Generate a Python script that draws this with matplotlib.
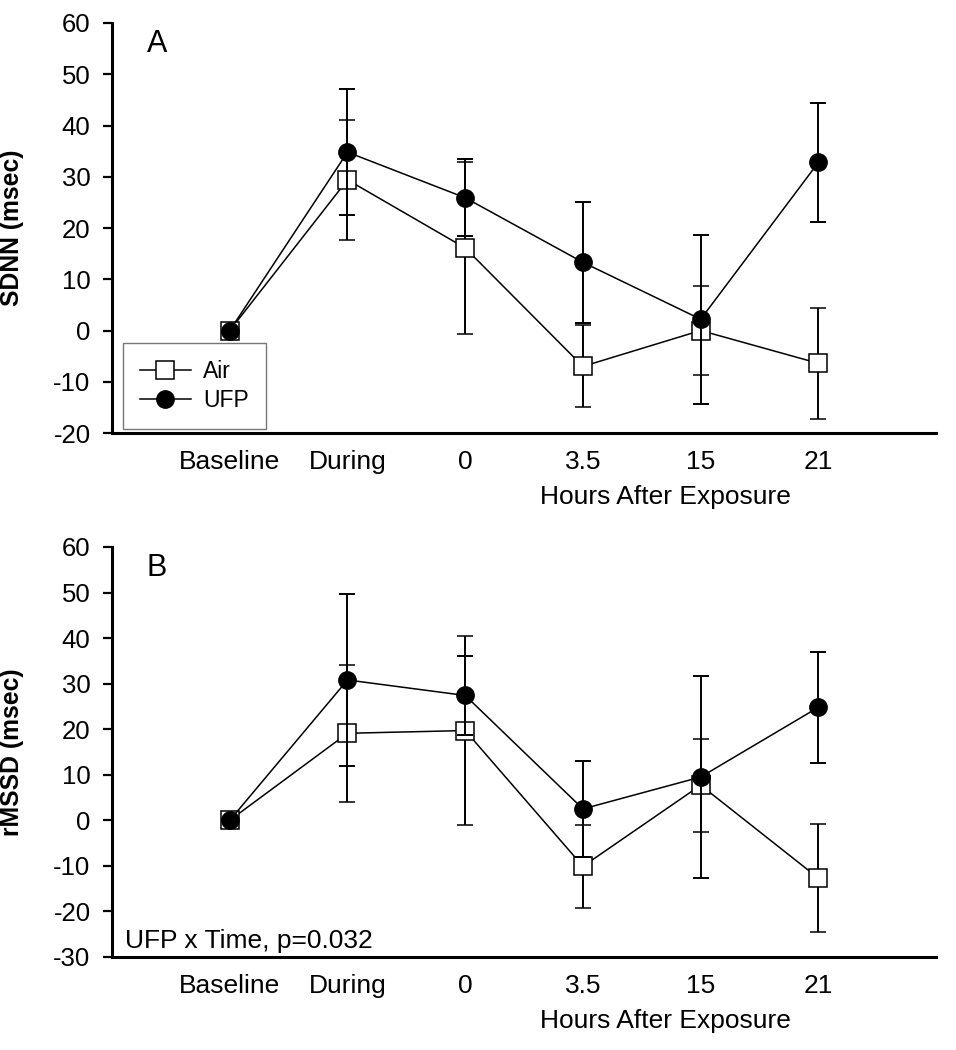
import numpy as np
import matplotlib
matplotlib.use('Agg')
import matplotlib.pyplot as plt
from matplotlib.lines import Line2D

plt.rcParams['font.family'] = ['Liberation Sans', 'DejaVu Sans']
plt.rcParams['axes.unicode_minus'] = False

x_labels = ['Baseline', 'During', '0', '3.5', '15', '21']

# panel A: SDNN
air_a = [0, 29.4, 16.1, -7.0, 0.0, -6.4]
air_a_err = [0, 11.7, 16.7, 8.0, 8.7, 10.8]
ufp_a = [0, 34.8, 25.9, 13.3, 2.2, 32.8]
ufp_a_err = [0, 12.3, 7.5, 11.8, 16.5, 11.6]

# panel B: rMSSD
air_b = [0, 19.1, 19.7, -10.1, 7.7, -12.7]
air_b_err = [0, 15.0, 20.8, 9.1, 10.2, 11.8]
ufp_b = [0, 30.8, 27.4, 2.5, 9.5, 24.8]
ufp_b_err = [0, 18.9, 8.7, 10.5, 22.2, 12.2]

fs = 19
x = np.arange(len(x_labels))

fig = plt.figure(figsize=(9.56, 10.5), dpi=100)
ax_a = fig.add_axes([0.1172, 0.5876, 0.862, 0.3905])
ax_b = fig.add_axes([0.1172, 0.0886, 0.862, 0.3905])


def draw_panel(ax, air, air_err, ufp, ufp_err, ylim, ylabel, letter):
    ax.errorbar(x, air, yerr=air_err, color='black', lw=1.1, elinewidth=1.4,
                capsize=5.5, capthick=1.4, marker='s', ms=13, mfc='white',
                mec='black', mew=1.1, zorder=2)
    ax.errorbar(x, ufp, yerr=ufp_err, color='black', lw=1.1, elinewidth=1.4,
                capsize=5.5, capthick=1.4, marker='o', ms=12.5, mfc='black',
                mec='black', zorder=3)
    ax.set_xlim(-1, 6)
    ax.set_ylim(*ylim)
    ax.set_yticks(np.arange(ylim[0], ylim[1] + 1, 10))
    ax.set_xticks(x)
    ax.set_xticklabels(x_labels)
    for s in ['top', 'right']:
        ax.spines[s].set_visible(False)
    for s in ['left', 'bottom']:
        ax.spines[s].set_linewidth(2.2)
    ax.tick_params(axis='x', length=0, pad=12, labelsize=fs)
    ax.tick_params(axis='y', length=6.5, width=1.6, pad=9, labelsize=18.5)
    ax.set_ylabel(ylabel, fontsize=17.8, fontweight='bold')
    ax.yaxis.set_label_coords(-0.107, 0.5)
    ax.text(3.7, -0.156, 'Hours After Exposure', fontsize=fs, ha='center',
            va='center', transform=ax.get_xaxis_transform())
    ax.text(0.042, 0.985, letter, fontsize=22, ha='left', va='top',
            transform=ax.transAxes)


draw_panel(ax_a, air_a, air_a_err, ufp_a, ufp_a_err, (-20, 60),
           'SDNN (msec)', 'A')
draw_panel(ax_b, air_b, air_b_err, ufp_b, ufp_b_err, (-30, 60),
           'rMSSD (msec)', 'B')

handles = [
    Line2D([], [], color='black', lw=1.1, marker='s', ms=13, mfc='white',
           mec='black', mew=1.1),
    Line2D([], [], color='black', lw=1.1, marker='o', ms=12.5, mfc='black',
           mec='black'),
]
leg = ax_a.legend(handles, ['Air', 'UFP'], loc='lower left',
                  bbox_to_anchor=(0.0133, 0.0098), borderaxespad=0,
                  fontsize=16.5, fancybox=False, handlelength=2.2,
                  handletextpad=0.55, borderpad=0.75, labelspacing=0.25)
leg.get_frame().set_edgecolor('#555555')
leg.get_frame().set_linewidth(1.0)

ax_b.text(0.016, 0.022, 'UFP x Time, p=0.032', fontsize=fs, ha='left',
          va='baseline', transform=ax_b.transAxes)

fig.savefig('out.png', dpi=100)
